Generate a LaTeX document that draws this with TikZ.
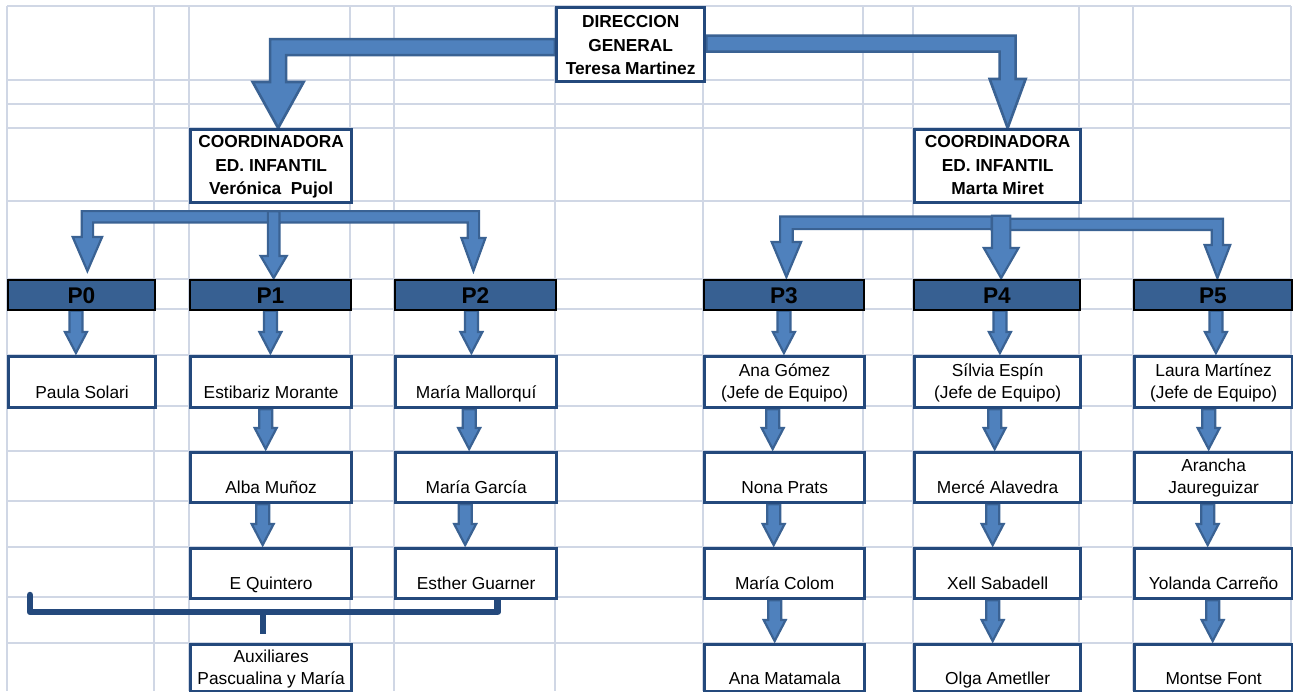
\documentclass[tikz,border=0pt]{standalone}
\usepackage{fontspec}
\setmainfont{Liberation Sans}
\usetikzlibrary{calc}
\pgfdeclarelayer{bg}
\pgfsetlayers{bg,main}
\definecolor{gridc}{HTML}{D0D7E5}
\definecolor{arrowfill}{HTML}{4F81BD}
\definecolor{arrowline}{HTML}{3A6293}
\definecolor{boxline}{HTML}{24497C}
\definecolor{pfill}{HTML}{376092}
\newcommand{\twolines}[2]{\begin{tabular}[b]{@{}c@{}}#1\\#2\end{tabular}}
\newcommand{\threelines}[3]{\begin{tabular}[b]{@{}c@{}}#1\\#2\\#3\end{tabular}}
% straight vertical block arrow: #2 start (x taken from it), #3 tip, #4 shaft half, #5 head half, #6 head length
\newcommand{\varr}[6][]{%
  \path[blockarrow,#1] let \p1=#2, \p2=#3 in
    ({\x1-#4},\y1) -- ({\x1+#4},\y1) -- ({\x1+#4},{\y2+#6}) -- ({\x1+#5},{\y2+#6})
    -- (\x1,\y2) -- ({\x1-#5},{\y2+#6}) -- ({\x1-#4},{\y2+#6}) -- cycle;}
% small arrow between stacked nodes
\newcommand{\sarr}[3][0]{\varr{([xshift=#1]#2.south)}{([yshift=2]#3.north)}{6.5pt}{11pt}{21pt}}
% bent block arrow: #1 sign (1 = to the left, -1 = to the right), #2 start, #3 tip, #4 shaft half, #5 head half, #6 head length
\newcommand{\bentarr}[6]{%
  \path[blockarrow] let \p1=#2, \p2=#3 in
    (\x1,{\y1+#4}) -- ({\x2-(#1)*#4},{\y1+#4}) -- ({\x2-(#1)*#4},{\y2+#6})
    -- ({\x2-(#1)*#5},{\y2+#6}) -- (\x2,\y2) -- ({\x2+(#1)*#5},{\y2+#6})
    -- ({\x2+(#1)*#4},{\y2+#6}) -- ({\x2+(#1)*#4},{\y1-#4}) -- (\x1,{\y1-#4}) -- cycle;}
\tikzset{
  cellbox/.style={draw=boxline, fill=white, line width=3.3pt, inner sep=0pt, anchor=north west,
    font=\fontsize{17.33}{22}\selectfont},
  titlebox/.style={cellbox, font=\bfseries\fontsize{17.33}{23.5}\selectfont},
  pbox/.style={draw=black, fill=pfill, line width=1.8pt, inner sep=0pt, anchor=north west,
    font=\bfseries\fontsize{22.67}{26}\selectfont, text height=23.7pt, text depth=6.3pt},
  rowA/.style={text height=42pt, text depth=9pt},
  rowB/.style={text height=41pt, text depth=9pt},
  rowD/.style={text height=40pt, text depth=7pt},
  colA/.style={minimum width=147pt},
  colB/.style={minimum width=161pt},
  colC/.style={minimum width=161pt},
  colD/.style={minimum width=160pt},
  colE/.style={minimum width=166pt},
  colF/.style={minimum width=158pt},
  blockarrow/.style={fill=arrowfill, draw=arrowline, line width=2.2pt, line join=miter},
  bracketline/.style={draw=boxline, line width=6.5pt, line cap=round, line join=round},
  gridline/.style={draw=gridc, line width=2pt}
}
\begin{document}
\begin{tikzpicture}[x=1pt,y=-1pt]
\useasboundingbox (0,0) rectangle (1293,691);

% top
\node[titlebox, minimum width=148pt, text height=67pt, text depth=7pt] (dir) at (555,6)
  {\threelines{DIRECCION}{GENERAL}{Teresa Martinez}};
\node[titlebox, colB, text height=65pt, text depth=8pt] (cl) at (189,128)
  {\threelines{COORDINADORA}{ED. INFANTIL}{Verónica\ \ Pujol}};
\node[titlebox, colE, text height=65pt, text depth=8pt] (cr) at (913,128)
  {\threelines{COORDINADORA}{ED. INFANTIL}{Marta Miret}};

% P row
\node[pbox, colA] (p0) at (7,279) {P0};
\node[pbox, colB] (p1) at (189,279) {P1};
\node[pbox, colC] (p2) at (394,279) {P2};
\node[pbox, colD] (p3) at (703,279) {P3};
\node[pbox, colE] (p4) at (913,279) {P4};
\node[pbox, colF] (p5) at (1133,279) {P5};

% left cells
\node[cellbox, colA, rowA] (paula) at (7,355) {Paula Solari};
\node[cellbox, colB, rowA] (estib) at (189,355) {Estibariz Morante};
\node[cellbox, colC, rowA] (mmall) at (394,355) {María Mallorquí};
\node[cellbox, colB, rowB] (alba) at (189,451) {Alba Muñoz};
\node[cellbox, colC, rowB] (mgar) at (394,451) {María García};
\node[cellbox, colB, rowB] (equin) at (189,547) {E Quintero};
\node[cellbox, colC, rowB] (eguar) at (394,547) {Esther Guarner};
\node[cellbox, colB, rowD] (aux) at (189,643) {\twolines{Auxiliares}{Pascualina y María}};

% right cells
\node[cellbox, colD, rowA] (anag) at (703,355) {\twolines{Ana Gómez}{(Jefe de Equipo)}};
\node[cellbox, colE, rowA] (silv) at (913,355) {\twolines{Sílvia Espín}{(Jefe de Equipo)}};
\node[cellbox, colF, rowA] (laura) at (1133,355) {\twolines{Laura Martínez}{(Jefe de Equipo)}};
\node[cellbox, colD, rowB] (nona) at (703,451) {Nona Prats};
\node[cellbox, colE, rowB] (merce) at (913,451) {Mercé Alavedra};
\node[cellbox, colF, rowB] (aran) at (1133,451) {\twolines{Arancha}{Jaureguizar}};
\node[cellbox, colD, rowB] (colom) at (703,547) {María Colom};
\node[cellbox, colE, rowB] (xell) at (913,547) {Xell Sabadell};
\node[cellbox, colF, rowB] (yol) at (1133,547) {Yolanda Carreño};
\node[cellbox, colD, rowD] (matam) at (703,643) {Ana Matamala};
\node[cellbox, colE, rowD] (olga) at (913,643) {Olga Ametller};
\node[cellbox, colF, rowD] (montse) at (1133,643) {Montse Font};

\begin{pgfonlayer}{bg}
  \fill[white] (0,0) rectangle (1293,691);
  \foreach \gx in {7,154,189,350,394,555,703,863,913,1079,1133,1291}
    \draw[gridline] (\gx,6) -- (\gx,691);
  \foreach \gy in {6,80,104,128,201,279,309,355,406,451,501,547,597,643}
    \draw[gridline] (7,\gy) -- (1291,\gy);

  % big arrows from the direction
  \begin{scope}[blockarrow/.append style={line width=2.6pt}]
    \bentarr{1}{([yshift=-2.5]dir.west)}{([xshift=7]cl.north)}{8pt}{25.5pt}{46pt}
    \bentarr{-1}{([yshift=1]dir.east)}{([xshift=10]cr.north)}{8pt}{18pt}{49pt}
  \end{scope}

  % left branches
  \bentarr{1}{([xshift=8.5,yshift=-12.5]cl.south)}{([xshift=6,yshift=8]p0.north)}{5.7pt}{14.7pt}{34pt}
  \bentarr{-1}{([xshift=-2.5,yshift=-12.5]cl.south)}{([xshift=-2,yshift=8]p2.north)}{5.7pt}{12pt}{33pt}
  \varr{([xshift=2.5,yshift=-7]cl.south)}{([yshift=1]p1.north)}{5.8pt}{13pt}{22pt}

  % right branches
  \bentarr{1}{([xshift=12,yshift=-18.5]cr.south)}{([xshift=2.5,yshift=2]p3.north)}{6.3pt}{14.7pt}{35pt}
  \bentarr{-1}{([xshift=-6,yshift=-20]cr.south)}{([xshift=4.5,yshift=1]p5.north)}{5.6pt}{12.8pt}{33pt}
  \varr{([xshift=3.5,yshift=-11.5]cr.south)}{([yshift=1]p4.north)}{9.2pt}{17.3pt}{30pt}

  % small arrows, left
  \sarr[-5.5]{p0}{paula}
  \sarr[0]{p1}{estib}
  \sarr[-4]{p2}{mmall}
  \sarr[-5.5]{estib}{alba}
  \sarr[-8.5]{alba}{equin}
  \sarr[-7]{mmall}{mgar}
  \sarr[-11]{mgar}{eguar}

  % small arrows, right
  \sarr[0]{p3}{anag}
  \sarr[3]{p4}{silv}
  \sarr[3]{p5}{laura}
  \sarr[-12]{anag}{nona}
  \sarr[-11]{nona}{colom}
  \sarr[-10]{colom}{matam}
  \sarr[-3]{silv}{merce}
  \sarr[-5]{merce}{xell}
  \sarr[-5]{xell}{olga}
  \sarr[-5]{laura}{aran}
  \sarr[-6]{aran}{yol}
  \sarr[-1]{yol}{montse}

  % bracket to the auxiliaries
  \coordinate (brL) at (30,595);
  \coordinate (brM) at (263,612);
  \draw[bracketline] (brL) |- (brM) -| ([xshift=21.5]eguar.south);
  \draw[bracketline, line cap=butt, shorten >=9pt] (brM) -- (brM |- aux.north);
\end{pgfonlayer}
\end{tikzpicture}
\end{document}
